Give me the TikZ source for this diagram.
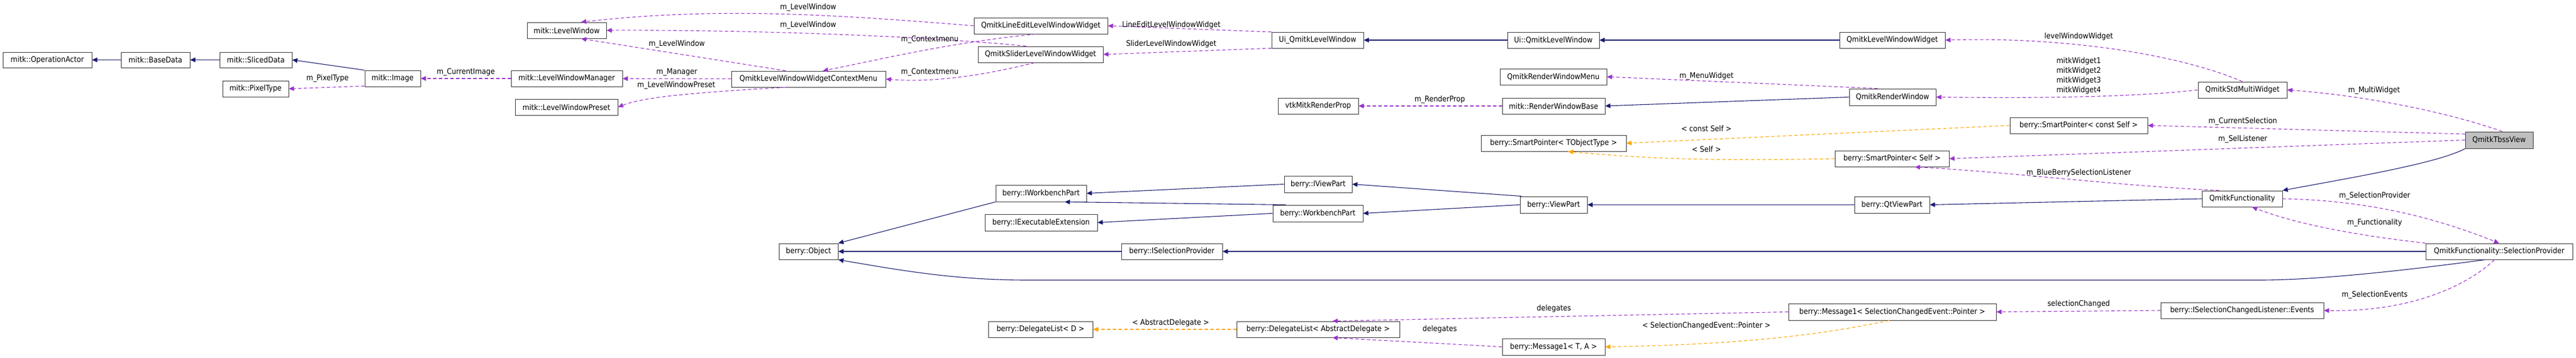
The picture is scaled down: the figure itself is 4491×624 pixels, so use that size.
\documentclass[tikz,border=0pt]{standalone}
\usepackage{fontspec}
\setmainfont{DejaVu Sans Condensed}
\usetikzlibrary{arrows.meta}
\definecolor{inhc}{HTML}{191970}
\definecolor{usec}{HTML}{9A32CD}
\definecolor{tplc}{HTML}{FFA500}
\newcommand\nd[7][]{\node[box,#1,minimum width={(#5-#3)*1pt},minimum height={(#6-#4)*1pt}] (#2) at ({(#3+#5)/2},{(#4+#6)/2}) {#7};}
\begin{document}
\begin{tikzpicture}[x=1pt,y=-1pt,
  box/.style={draw=black!80,line width=1pt,fill=white,inner sep=0pt,font=\fontsize{13.5}{15}\selectfont},
  lab/.style={font=\fontsize{13.5}{15}\selectfont,inner sep=0pt},
  tip/.style={-{Triangle[length=9pt,width=8pt]}},
  inh/.style={tip,draw=inhc,line width=1.1pt},
  use/.style={tip,draw=usec,dash pattern=on 6pt off 4pt,line width=1.1pt},
  tpl/.style={tip,draw=tplc,dash pattern=on 6pt off 4pt,line width=1.1pt}]
\useasboundingbox[fill=white] (0,0) rectangle (4491,624);
% nodes
\nd{opact}{5}{91}{160}{118}{mitk::OperationActor}
\nd{base}{211}{91}{331}{118}{mitk::BaseData}
\nd{sliced}{383}{91}{509}{118}{mitk::SlicedData}
\nd{image}{636}{123}{733}{151}{mitk::Image}
\nd{pix}{388}{141}{503}{169}{mitk::PixelType}
\nd{lw}{919}{39}{1057}{67}{mitk::LevelWindow}
\nd{lwm}{891}{123}{1085}{151}{mitk::LevelWindowManager}
\nd{lwp}{898}{173}{1077}{201}{mitk::LevelWindowPreset}
\nd{ctx}{1275}{124}{1544}{152}{QmitkLevelWindowWidgetContextMenu}
\nd{le}{1698}{31}{1931}{59}{QmitkLineEditLevelWindowWidget}
\nd{sl}{1705}{81}{1923}{109}{QmitkSliderLevelWindowWidget}
\nd{uiu}{2217}{56}{2377}{84}{Ui\_QmitkLevelWindow}
\nd{vtk}{2228}{171}{2368}{199}{vtkMitkRenderProp}
\nd{uiq}{2628}{56}{2788}{84}{Ui::QmitkLevelWindow}
\nd{lww}{3207}{56}{3391}{84}{QmitkLevelWindowWidget}
\nd{rwm}{2615}{120}{2801}{148}{QmitkRenderWindowMenu}
\nd{rwb}{2619}{171}{2798}{199}{mitk::RenderWindowBase}
\nd{rw}{3224}{155}{3375}{184}{QmitkRenderWindow}
\nd{spto}{2582}{236}{2835}{264}{berry::SmartPointer< TObjectType >}
\nd{sps}{3199}{263}{3398}{291}{berry::SmartPointer< Self >}
\nd{smw}{3832}{143}{3987}{171}{QmitkStdMultiWidget}
\nd{spcs}{3504}{205}{3744}{233}{berry::SmartPointer< const Self >}
\nd[fill=black!25]{tbss}{4298}{230}{4416}{259}{QmitkTbssView}
\nd{iwbp}{1736}{323}{1894}{352}{berry::IWorkbenchPart}
\nd{ivp}{2239}{307}{2357}{336}{berry::IViewPart}
\nd{wbp}{2219}{358}{2376}{387}{berry::WorkbenchPart}
\nd{iexe}{1717}{374}{1913}{403}{berry::IExecutableExtension}
\nd{obj}{1358}{425}{1461}{453}{berry::Object}
\nd{isp}{1955}{425}{2131}{453}{berry::ISelectionProvider}
\nd{vp}{2650}{343}{2767}{372}{berry::ViewPart}
\nd{qtvp}{3233}{343}{3364}{372}{berry::QtViewPart}
\nd{func}{3839}{333}{3979}{361}{QmitkFunctionality}
\nd{selp}{4229}{425}{4485}{453}{QmitkFunctionality::SelectionProvider}
\nd{ev}{3767}{528}{4051}{556}{berry::ISelectionChangedListener::Events}
\nd{dld}{1723}{561}{1905}{589}{berry::DelegateList< D >}
\nd{dlad}{2156}{561}{2440}{589}{berry::DelegateList< AbstractDelegate >}
\nd{msg}{3118}{530}{3480}{559}{berry::Message1< SelectionChangedEvent::Pointer >}
\nd{mta}{2619}{591}{2798}{620}{berry::Message1< T, A >}
% inheritance
\draw[inh] (base) -- (opact);
\draw[inh] (sliced) -- (base);
\draw[inh] (image.north west) -- (sliced.east);
\draw[inh] (uiq) -- (uiu);
\draw[inh] (lww) -- (uiq);
\draw[inh] (rw.west) -- (rwb.east);
\draw[inh] (tbss.south west) .. controls (4250,285) and (4100,310) .. (func.north east);
\draw[inh] (func.west) -- (qtvp.east);
\draw[inh] (qtvp) -- (vp);
\draw[inh] (vp.165) -- (ivp.east);
\draw[inh] (vp.west) -- (wbp.east);
\draw[inh] (ivp.west) -- (iwbp.east);
\draw[inh] (wbp.165) -- (iwbp.-20);
\draw[inh] (wbp.west) -- (iexe.east);
\draw[inh] (iwbp.south west) -- (obj.north east);
\draw[inh] (isp) -- (obj);
\draw[inh] (selp) -- (isp);
\draw[inh] (selp.-150) .. controls (4150,478) and (4020,489) .. (3940,489) -- (1790,489) .. controls (1660,489) and (1560,470) .. (obj.south east);
% usage
\draw[use] (image.-165) -- (pix.east);
\node[lab] (l1) at (571,137) {m\_PixelType};
\draw[use] (lwm) -- (image);
\node[lab] (l2) at (812,126) {m\_CurrentImage};
\draw[use] (ctx) -- (lwm);
\node[lab] (l3) at (1180,126) {m\_Manager};
\draw[use] (ctx.-160) .. controls (1200,162) and (1120,170) .. (lwp.east);
\node[lab] (l4) at (1179,149) {m\_LevelWindowPreset};
\draw[use] (ctx.160) -- (lw.-30);
\node[lab] (l5) at (1180,77) {m\_LevelWindow};
\draw[use] (le.west) .. controls (1450,25) and (1250,12) .. (lw.30);
\node[lab] (l6) at (1409,13) {m\_LevelWindow};
\draw[use] (sl.150) .. controls (1600,62) and (1300,52) .. (lw.east);
\node[lab] (l7) at (1409,44) {m\_LevelWindow};
\draw[use] (le.-120) .. controls (1650,75) and (1530,105) .. (ctx.30);
\node[lab] (l8) at (1621,69) {m\_Contextmenu};
\draw[use] (sl.-125) .. controls (1700,135) and (1620,144) .. (ctx.east);
\node[lab] (l9) at (1621,126) {m\_Contextmenu};
\draw[use] (uiu.170) -- (le.east);
\node[lab] (l10) at (2042,44) {LineEditLevelWindowWidget};
\draw[use] (uiu.-170) -- (sl.east);
\node[lab] (l11) at (2042,77) {SliderLevelWindowWidget};
\draw[use] (rwb) -- (vtk);
\node[lab] (l12) at (2510,174) {m\_RenderProp};
\draw[use] (rw.150) -- (rwm.east);
\node[lab] (l13) at (2975,133) {m\_MenuWidget};
\draw[use] (smw.north) .. controls (3800,95) and (3600,64) .. (lww.east);
\node[lab] (l14) at (3624,64) {levelWindowWidget};
\draw[use] (smw.west) .. controls (3700,172) and (3500,171) .. (rw.east);
\node[lab,align=center] (l15) at (3624,132) {mitkWidget1\\[2pt]mitkWidget2\\[2pt]mitkWidget3\\[2pt]mitkWidget4};
\draw[use] (tbss.70) .. controls (4250,190) and (4100,165) .. (smw.east);
\node[lab] (l16) at (4139,158) {m\_MultiWidget};
\draw[use] (tbss.170) -- (spcs.east);
\node[lab] (l17) at (3910,212) {m\_CurrentSelection};
\draw[use] (tbss.west) -- (sps.east);
\node[lab] (l18) at (3910,243) {m\_SelListener};
\draw[use] (func.160) .. controls (3700,325) and (3500,300) .. (sps.-20);
\node[lab] (l19) at (3624,302) {m\_BlueBerrySelectionListener};
\draw[use] (func.east) .. controls (4150,350) and (4270,390) .. (selp.north);
\node[lab] (l20) at (4140,342) {m\_SelectionProvider};
\draw[use] (selp.north west) .. controls (4100,410) and (4000,390) .. (func.-40);
\node[lab] (l21) at (4140,389) {m\_Functionality};
\draw[use] (selp.-120) .. controls (4300,500) and (4200,545) .. (ev.east);
\node[lab] (l22) at (4140,515) {m\_SelectionEvents};
\draw[use] (ev.west) -- (msg.east);
\node[lab] (l23) at (3624,531) {selectionChanged};
\draw[use] (msg.west) -- (dlad.30);
\node[lab] (l24) at (2709,539) {delegates};
\draw[use] (mta.west) -- (dlad.-30);
\node[lab] (l25) at (2510,575) {delegates};
% template
\draw[tpl] (spcs.west) -- (spto.east);
\node[lab] (l26) at (2975,224) {< const Self >};
\draw[tpl] (sps.west) .. controls (3000,281) and (2880,278) .. (spto.-30);
\node[lab] (l27) at (2975,260) {< Self >};
\draw[tpl] (dlad) -- (dld);
\node[lab] (l28) at (2041,564) {< AbstractDelegate >};
\draw[tpl] (msg.-110) .. controls (3150,590) and (3000,602) .. (mta.east);
\node[lab] (l29) at (2975,569) {< SelectionChangedEvent::Pointer >};
\end{tikzpicture}
\end{document}
